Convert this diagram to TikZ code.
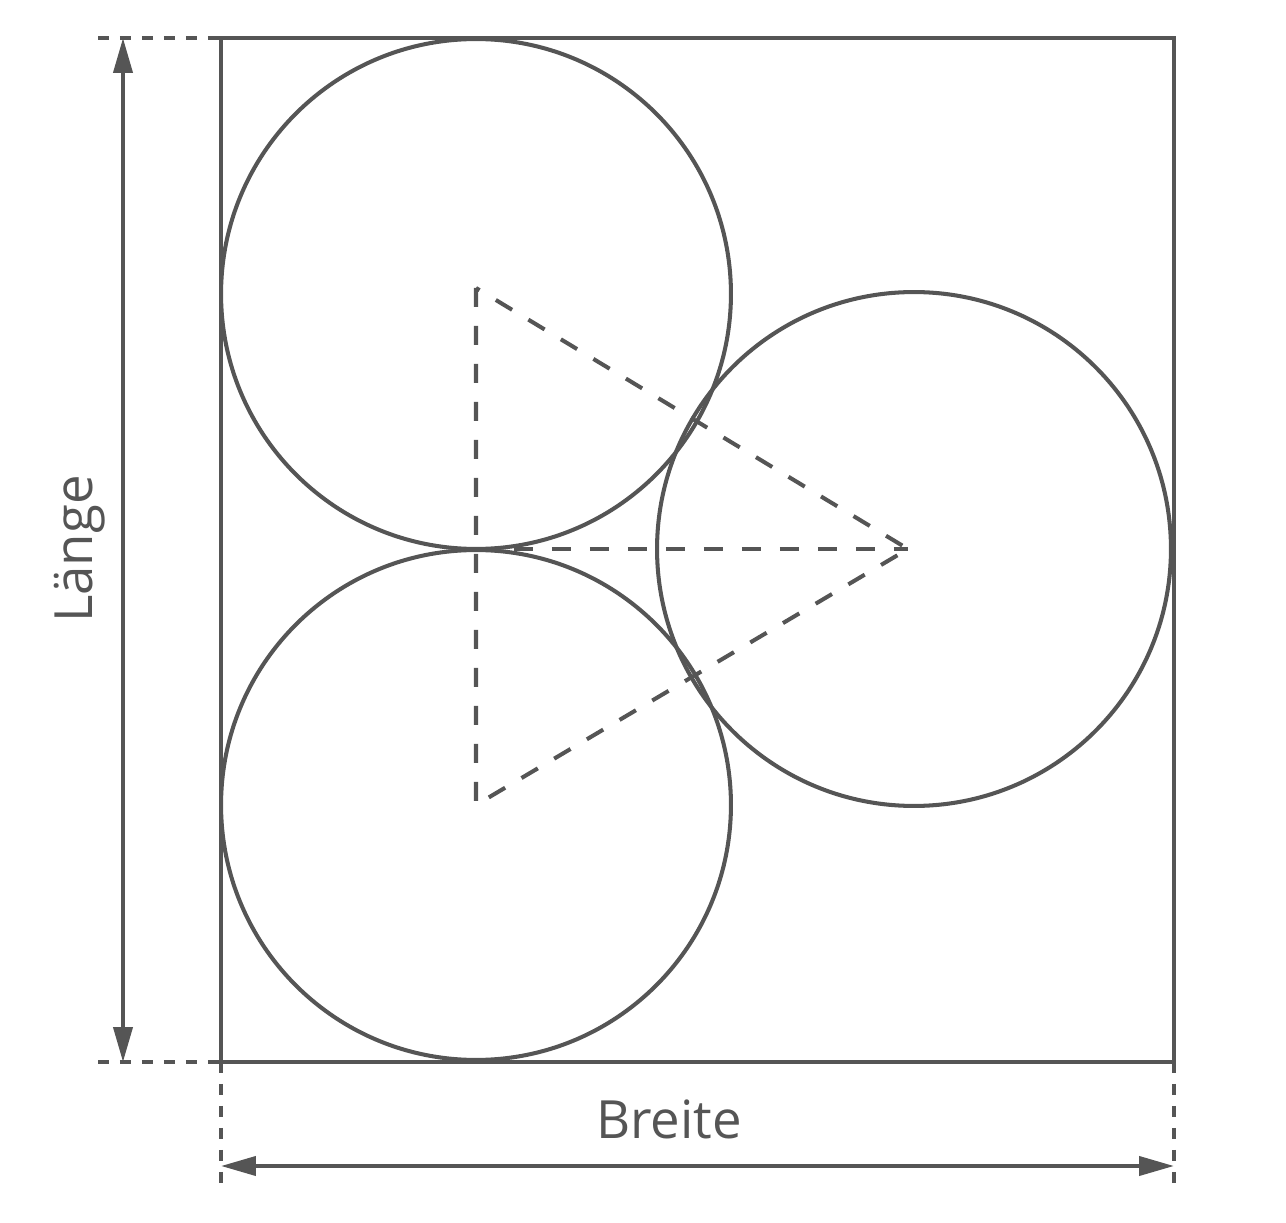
\documentclass[tikz,border=0pt]{standalone}
\usepackage{fontspec}
\setmainfont{Open Sans}
\usetikzlibrary{arrows.meta}
\definecolor{linegray}{RGB}{85,85,85}
\tikzstyle{outline} = [draw=linegray, line width=2.3pt]
\tikzstyle{guide} = [draw=linegray, line width=2.3pt, dash pattern=on 0.22cm off 0.22cm]
\tikzstyle{centres} = [draw=linegray, line width=2.3pt, dash pattern=on 0.38cm off 0.38cm]
\tikzstyle{measure} = [draw=linegray, line width=2.3pt, {Triangle[length=0.7cm,width=0.38cm]}-{Triangle[length=0.7cm,width=0.38cm]}]
\tikzstyle{dimlabel} = [text=linegray, font=\fontsize{30}{36}\selectfont, inner sep=0pt]

\begin{document}
\begin{tikzpicture}[x=0.02cm, y=-0.02cm]
                \useasboundingbox (0,0) rectangle (1286,1223);
                % box
                \coordinate (tl) at (221,38);
                \coordinate (bl) at (221,1062);
                \coordinate (br) at (1174,1062);
                \draw [outline] (tl) rectangle (br);

                % the three circles
                \coordinate (upper) at (476,294);
                \coordinate (lower) at (476,805);
                \coordinate (right) at (914,549);
                \draw [outline] (upper) circle [radius=5.1cm];
                \draw [outline] (lower) circle [radius=5.1cm];
                \draw [outline] (right) circle [radius=5.14cm];

                % triangle of the centres
                \coordinate (ta) at (476,288);
                \coordinate (tb) at (476,805);
                \coordinate (tc) at (908,549);
                \coordinate (touch) at (476,549);
                \draw [centres] (ta) -- (tb) -- (tc) -- cycle;
                \draw [centres] (touch) -- (tc);

                % length
                \coordinate (lt) at (98,38);
                \coordinate (lb) at (98,1062);
                \coordinate (at) at (123,38);
                \coordinate (ab) at (123,1062);
                \draw [guide] (lt) -- (tl);
                \draw [guide] (lb) -- (bl);
                \draw [measure] (ab) -- (at);
                \node (laenge) [dimlabel, rotate=90, anchor=base] at (92,549) {Länge};

                % width
                \coordinate (wl) at (221,1185);
                \coordinate (wr) at (1174,1185);
                \coordinate (al) at (221,1166);
                \coordinate (ar) at (1174,1166);
                \draw [guide] (bl) -- (wl);
                \draw [guide] (br) -- (wr);
                \draw [measure] (al) -- (ar);
                \node (breite) [dimlabel, anchor=base] at (669,1138) {Breite};
            \end{tikzpicture}
\end{document}
